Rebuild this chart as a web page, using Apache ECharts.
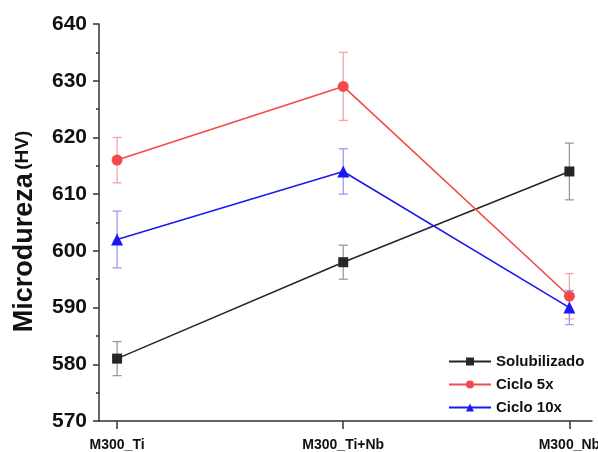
<!DOCTYPE html>
<html>
<head>
<meta charset="utf-8">
<script src="https://cdn.jsdelivr.net/npm/echarts@6/dist/echarts.min.js"></script>
<style>
  html, body { margin: 0; padding: 0; background: #fff; }
  #chart { width: 598px; height: 452px; }
</style>
</head>
<body>
<div id="chart"></div>
<script>
// Microhardness by alloy and heat-treatment condition
const categories = ['M300_Ti', 'M300_Ti+Nb', 'M300_Nb'];
const seriesNames = ['Solubilizado', 'Ciclo 5x', 'Ciclo 10x'];

const solubilizado = [581, 598, 614];
const solubilizadoErr = [3, 3, 5];
const ciclo5 = [616, 629, 592];
const ciclo5Err = [4, 6, 4];
const ciclo10 = [602, 614, 590];
const ciclo10Err = [5, 4, 3];

const yTicks = [570, 580, 590, 600, 610, 620, 630, 640];

const lineColors = ['#262626', '#f24a4a', '#1a1af0'];
const errColors = ['#9a9a9a', '#f7a3a3', '#9a9af5'];
const symbols = ['rect', 'circle', 'triangle'];
const symbolSizes = [10, 11, 12];

const values = [solubilizado, ciclo5, ciclo10];
const errors = [solubilizadoErr, ciclo5Err, ciclo10Err];
const xPos = categories.map((c, i) => i + 1);

const font = 'Liberation Sans, Arial, sans-serif';

function errorBarItem(color) {
  return function (params, api) {
    const x = api.value(0);
    const lo = api.coord([x, api.value(1)]);
    const hi = api.coord([x, api.value(2)]);
    const cap = 4.5;
    const style = { stroke: color, lineWidth: 1.3, fill: null };
    return {
      type: 'group',
      children: [
        { type: 'line', shape: { x1: lo[0], y1: lo[1], x2: hi[0], y2: hi[1] }, style },
        { type: 'line', shape: { x1: lo[0] - cap, y1: lo[1], x2: lo[0] + cap, y2: lo[1] }, style },
        { type: 'line', shape: { x1: hi[0] - cap, y1: hi[1], x2: hi[0] + cap, y2: hi[1] }, style }
      ]
    };
  };
}

const series = [];
values.forEach((vals, s) => {
  series.push({
    type: 'custom',
    name: seriesNames[s] + ' err',
    renderItem: errorBarItem(errColors[s]),
    encode: { x: 0, y: [1, 2] },
    data: vals.map((v, i) => [xPos[i], v - errors[s][i], v + errors[s][i]]),
    z: 1,
    silent: true
  });
});
values.forEach((vals, s) => {
  series.push({
    type: 'line',
    name: seriesNames[s],
    data: vals.map((v, i) => [xPos[i], v]),
    symbol: symbols[s],
    symbolSize: symbolSizes[s],
    lineStyle: { color: lineColors[s], width: 1.6 },
    itemStyle: { color: lineColors[s] },
    z: 3,
    animation: false
  });
});

const chart = echarts.init(document.getElementById('chart'));
chart.setOption({
  animation: false,
  backgroundColor: '#ffffff',
  grid: { left: 99, right: 6, top: 24, bottom: 31, containLabel: false, outerBoundsMode: 'none' },
  legend: {
    data: seriesNames,
    orient: 'vertical',
    left: 443,
    top: 349,
    itemWidth: 42,
    itemHeight: 10,
    itemGap: 8,
    textStyle: { fontFamily: font, fontWeight: 'bold', fontSize: 15, color: '#111' }
  },
  xAxis: {
    type: 'value',
    min: 0.92,
    max: 3.1,
    axisLine: { lineStyle: { color: '#333', width: 1.5 } },
    axisTick: { show: true, customValues: xPos, length: 8, lineStyle: { color: '#333', width: 1.5 } },
    axisLabel: {
      customValues: xPos,
      formatter: v => categories[Math.round(v) - 1] || '',
      margin: 17,
      fontFamily: font,
      fontWeight: 'bold',
      fontSize: 14,
      color: '#111'
    },
    splitLine: { show: false }
  },
  yAxis: {
    type: 'value',
    min: yTicks[0],
    max: yTicks[yTicks.length - 1],
    interval: 10,
    name: '{a|Microdureza} {b|(HV)}',
    nameLocation: 'middle',
    nameGap: 61,
    nameRotate: 90,
    nameTextStyle: {
      padding: [0, 18, 0, 0],
      rich: {
        a: { fontFamily: font, fontWeight: 'bold', fontSize: 27, color: '#111', verticalAlign: 'top' },
        b: { fontFamily: font, fontWeight: 'bold', fontSize: 19, color: '#111', verticalAlign: 'top', padding: [2, 0, 0, 0] }
      }
    },
    axisLine: { show: true, lineStyle: { color: '#333', width: 1.5 } },
    axisTick: { show: true, length: 6, lineStyle: { color: '#333', width: 1.5 } },
    minorTick: { show: true, splitNumber: 2, length: 3, lineStyle: { color: '#333', width: 1.5 } },
    axisLabel: {
      margin: 12,
      fontFamily: font,
      fontWeight: 'bold',
      fontSize: 21,
      color: '#111'
    },
    splitLine: { show: false },
    minorSplitLine: { show: false }
  },
  series
});
</script>
</body>
</html>
